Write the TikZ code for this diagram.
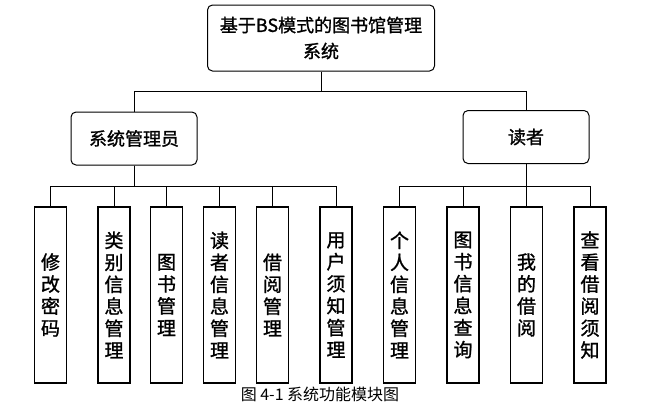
\documentclass[tikz,border=0pt]{standalone}
\usepackage{fontspec}
\newfontfamily\cjk[AutoFakeBold=1.2]{Noto Sans CJK SC}
\usepackage{tikz}
\usetikzlibrary{positioning}

\begin{document}
\begin{tikzpicture}[
  x=1pt, y=-1pt,
  font=\cjk,
  topbox/.style={draw=black, fill=white, rounded corners=5pt,
    align=center, line width=1pt, inner sep=0pt,
    minimum width=227pt, minimum height=66pt,
    font=\cjk\bfseries\fontsize{18}{26}\selectfont},
  rolebox/.style={topbox, minimum width=126pt, minimum height=53pt},
  leafbox/.style={draw=black, fill=white, line width=1.2pt,
    align=center, inner sep=0pt,
    minimum width=32pt, minimum height=176pt,
    font=\cjk\bfseries\fontsize{19}{22}\selectfont},
  link/.style={draw=black, line width=0.8pt},
  caption/.style={font=\cjk\fontsize{16}{18}\selectfont}
]
\useasboundingbox (0,0) rectangle (655,405);

\node[topbox] (system) at (321,38) {基于BS模式的图书馆管理\\系统};
\node[rolebox] (admin) at (134,138.5) {系统管理员};
\node[rolebox] (reader) at (526,137) {读者};

\node[leafbox] (pwd) at (50.5,295) {修\\改\\密\\码};
\node[leafbox] (category) at (114,295) {类\\别\\信\\息\\管\\理};
\node[leafbox] (books) at (166.5,295) {图\\书\\管\\理};
\node[leafbox] (readers) at (219.5,295) {读\\者\\信\\息\\管\\理};
\node[leafbox] (borrow) at (272.5,295) {借\\阅\\管\\理};
\node[leafbox] (notice) at (336,295) {用\\户\\须\\知\\管\\理};
\node[leafbox] (profile) at (399.5,295) {个\\人\\信\\息\\管\\理};
\node[leafbox] (search) at (463,295) {图\\书\\信\\息\\查\\询};
\node[leafbox] (mine) at (526.5,295) {我\\的\\借\\阅};
\node[leafbox] (rules) at (590,295) {查\\看\\借\\阅\\须\\知};

\draw[link] (system.south) -- ++(0,20) -| (admin.north);
\draw[link] (system.south) -- ++(0,20) -| (reader.north);
\foreach \leaf in {pwd,category,books,readers,borrow,notice}
  \draw[link] (admin.south) -- ++(0,21) -| (\leaf.north);
\foreach \leaf in {profile,search,mine,rules}
  \draw[link] (reader.south) -- ++(0,22) -| (\leaf.north);

\node[caption] (title) at (320,394) {图 4-1 系统功能模块图};
\end{tikzpicture}
\end{document}
